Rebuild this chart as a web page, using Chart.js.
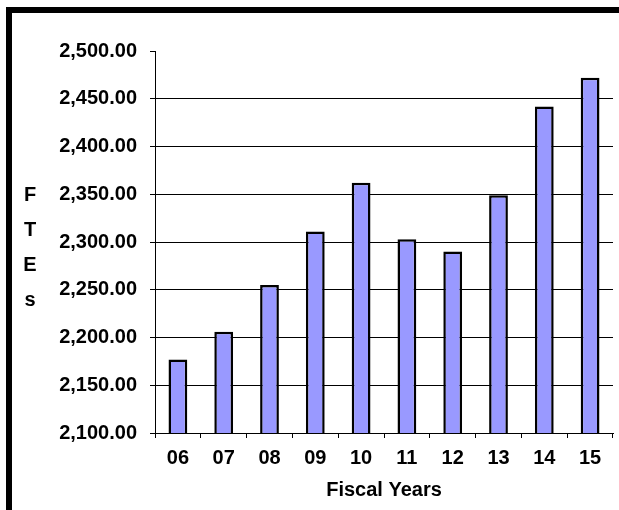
<!DOCTYPE html>
<html>
<head>
<meta charset="utf-8">
<script src="https://cdn.jsdelivr.net/npm/chart.js@4"></script>
<style>
  html, body { margin: 0; padding: 0; background: #fff; }
  #c { display: block; }
</style>
</head>
<body>
<canvas id="c" width="619" height="510"></canvas>
<script>
const years = ['06', '07', '08', '09', '10', '11', '12', '13', '14', '15'];
const ftes = [2177, 2206, 2255, 2311, 2362, 2303, 2290, 2349, 2442, 2472];
const yTitleLetters = ['F', 'T', 'E', 's'];
const xTitle = 'Fiscal Years';
const yMin = 2100, yMax = 2500, yStep = 50;

const FONT = "'Liberation Sans', Arial, sans-serif";

const framePlugin = {
  id: 'frame',
  beforeDraw(chart) {
    const ctx = chart.ctx;
    ctx.save();
    ctx.fillStyle = '#000';
    ctx.fillRect(6, 7, chart.width - 6, 6);
    ctx.fillRect(6, 7, 6, chart.height - 7);
    ctx.restore();
  }
};

const yTitlePlugin = {
  id: 'yTitleStack',
  afterDraw(chart) {
    const ctx = chart.ctx;
    ctx.save();
    ctx.fillStyle = '#000';
    ctx.font = 'bold 20px ' + FONT;
    ctx.textAlign = 'center';
    ctx.textBaseline = 'alphabetic';
    yTitleLetters.forEach((ch, i) => {
      ctx.fillText(ch, 30, 200.5 + i * 35);
    });
    ctx.restore();
  }
};

new Chart(document.getElementById('c'), {
  type: 'bar',
  data: {
    labels: years,
    datasets: [{
      data: ftes,
      backgroundColor: '#9999FF',
      borderColor: '#000',
      borderWidth: 2.5,
      borderSkipped: false,
      categoryPercentage: 1,
      barPercentage: 0.41
    }]
  },
  options: {
    responsive: false,
    animation: false,
    devicePixelRatio: 1,
    layout: { padding: { top: 51, right: 6, left: 0, bottom: 0 } },
    plugins: {
      legend: { display: false },
      tooltip: { enabled: false }
    },
    scales: {
      x: {
        offset: true,
        grid: {
          offset: true,
          drawOnChartArea: false,
          drawTicks: true,
          tickLength: 5,
          tickColor: '#000',
          tickWidth: 1
        },
        border: { color: '#000', width: 1 },
        ticks: {
          color: '#000',
          padding: 8,
          maxRotation: 0,
          font: { family: FONT, size: 20, weight: 'bold' }
        },
        title: {
          display: true,
          text: xTitle,
          color: '#000',
          padding: { top: 0, bottom: 8 },
          font: { family: FONT, size: 20, weight: 'bold' }
        },
        afterFit(scale) { scale.height = 77; }
      },
      y: {
        min: yMin,
        max: yMax,
        grid: {
          color: (c) => (c.tick && (c.tick.value === yMax || c.tick.value === yMin)) ? 'rgba(0,0,0,0)' : '#000',
          lineWidth: 1,
          tickLength: 5,
          tickColor: '#000',
          tickWidth: 1
        },
        border: { color: '#000', width: 1 },
        ticks: {
          stepSize: yStep,
          color: '#000',
          padding: 13,
          font: { family: FONT, size: 20, weight: 'bold' },
          callback: (v) => Number(v).toLocaleString('en-US', { minimumFractionDigits: 2, maximumFractionDigits: 2 })
        },
        afterFit(scale) { scale.width = 155; }
      }
    }
  },
  plugins: [framePlugin, yTitlePlugin]
});
</script>
</body>
</html>
